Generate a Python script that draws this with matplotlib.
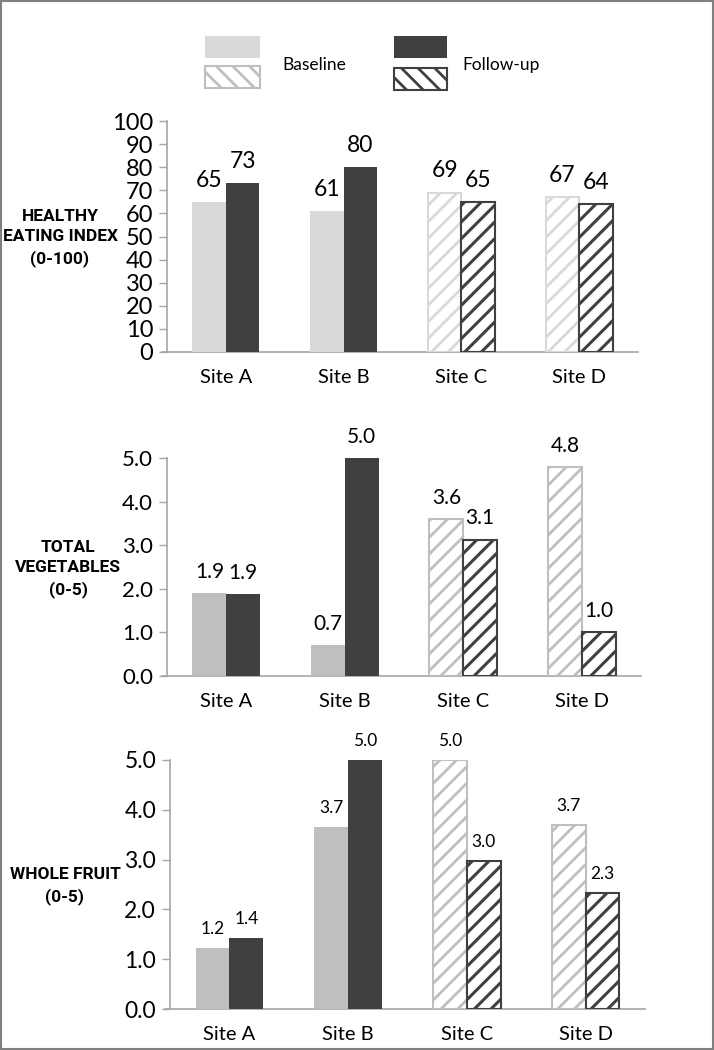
import matplotlib
matplotlib.use('Agg')
import matplotlib.pyplot as plt
from matplotlib.patches import Rectangle
import numpy as np

plt.rcParams['font.family'] = ['Lato', 'DejaVu Sans']

sites = ['Site A', 'Site B', 'Site C', 'Site D']
hatched = [False, False, True, True]

hei_base = [65, 61, 69, 67]
hei_follow = [73, 80, 65, 64]
hei_base_lbl = ['65', '61', '69', '67']
hei_follow_lbl = ['73', '80', '65', '64']

veg_base = [1.9, 0.7, 3.6, 4.8]
veg_follow = [1.87, 5.0, 3.13, 1.0]
veg_base_lbl = ['1.9', '0.7', '3.6', '4.8']
veg_follow_lbl = ['1.9', '5.0', '3.1', '1.0']

fruit_base = [1.22, 3.65, 5.0, 3.7]
fruit_follow = [1.42, 5.0, 2.97, 2.33]
fruit_base_lbl = ['1.2', '3.7', '5.0', '3.7']
fruit_follow_lbl = ['1.4', '5.0', '3.0', '2.3']

DARK = '#404040'
AXC = '#a6a6a6'

fig = plt.figure(figsize=(7.14, 10.5), dpi=100)
W, H = 714.0, 1050.0


def px_axes(left, right, top, bottom):
    return fig.add_axes([left / W, 1 - bottom / H, (right - left) / W, (bottom - top) / H])


def draw_bar(ax, x, v, w, color, hatch_on, dark):
    if hatch_on:
        with plt.rc_context({'hatch.linewidth': 2.2 if dark else 2.0}):
            b = ax.bar(x, v, w, color='white', edgecolor=color, linewidth=1.5,
                       hatch='//', zorder=3)
    else:
        b = ax.bar(x, v, w, color=color, edgecolor='none', zorder=3)
    return b


def panel(ax, base, follow, base_lbl, follow_lbl, base_color, ymax, ystep, fmt,
          lbl_size, tick_size, off):
    x = np.arange(len(sites)) + 0.5
    w = 0.285
    for i in range(len(sites)):
        draw_bar(ax, x[i] - w / 2, base[i], w, base_color, hatched[i], False)
        draw_bar(ax, x[i] + w / 2, follow[i], w, DARK, hatched[i], True)
        ax.annotate(base_lbl[i], (x[i] - w / 2, base[i]), xytext=(0, off),
                    textcoords='offset points', ha='center', va='bottom',
                    fontsize=lbl_size, color='black')
        ax.annotate(follow_lbl[i], (x[i] + w / 2, follow[i]), xytext=(0, off),
                    textcoords='offset points', ha='center', va='bottom',
                    fontsize=lbl_size, color='black')
    ax.set_xlim(0, len(sites))
    ax.set_ylim(0, ymax)
    ticks = np.arange(0, ymax + ystep / 2, ystep)
    ax.set_yticks(ticks)
    ax.set_yticklabels([fmt.format(t) for t in ticks], fontsize=tick_size)
    ax.set_xticks(x)
    ax.set_xticklabels(sites, fontsize=14.5)
    ax.tick_params(axis='x', length=0, pad=12)
    ax.tick_params(axis='y', length=6, width=1, color=AXC, pad=4)
    for s in ['top', 'right']:
        ax.spines[s].set_visible(False)
    for s in ['left', 'bottom']:
        ax.spines[s].set_color(AXC)
        ax.spines[s].set_linewidth(1.2)
    ax.spines['bottom'].set_bounds(-0.04, len(sites))
    ax.patch.set_alpha(0)


def side_label(xc, yc, text):
    fig.text(xc / W, 1 - yc / H, text, ha='center', va='center',
             family=['Roboto', 'DejaVu Sans'], fontsize=12.5, fontweight='bold',
             linespacing=1.45)


ax1 = px_axes(167, 638, 121, 352)
panel(ax1, hei_base, hei_follow, hei_base_lbl, hei_follow_lbl, '#d9d9d9',
      100, 10, '{:.0f}', 16.5, 17, 8)
side_label(60, 238, 'HEALTHY\nEATING INDEX\n(0-100)')

ax2 = px_axes(167, 641, 458, 676)
panel(ax2, veg_base, veg_follow, veg_base_lbl, veg_follow_lbl, '#bfbfbf',
      5, 1, '{:.1f}', 15, 16, 8)
side_label(68, 569, 'TOTAL\nVEGETABLES\n(0-5)')

ax3 = px_axes(170, 645, 760, 1009)
panel(ax3, fruit_base, fruit_follow, fruit_base_lbl, fruit_follow_lbl, '#bfbfbf',
      5, 1, '{:.1f}', 12.5, 16.5, 8)
side_label(65, 886, 'WHOLE FRUIT\n(0-5)')

# legend drawn in its own axes
lax = px_axes(190, 560, 30, 95)
lax.set_xlim(190, 560)
lax.set_ylim(95, 30)
lax.axis('off')
lax.add_patch(Rectangle((205, 36), 55, 22, facecolor='#d9d9d9', edgecolor='none'))
with plt.rc_context({'hatch.linewidth': 2.0}):
    lax.add_patch(Rectangle((205, 66), 55, 22, facecolor='white', edgecolor='#bfbfbf',
                            linewidth=1.5, hatch='\\\\'))
    lax.add_patch(Rectangle((394, 36), 53, 22, facecolor=DARK, edgecolor='none'))
    lax.add_patch(Rectangle((394, 68), 53, 22, facecolor='white', edgecolor=DARK,
                            linewidth=1.5, hatch='\\\\'))
lax.text(282, 65, 'Baseline', ha='left', va='center', fontsize=12.5)
lax.text(462, 65, 'Follow-up', ha='left', va='center', fontsize=12.5)

# outer frame
fig.patches.append(Rectangle((0.001, 0.001), 0.998, 0.998, transform=fig.transFigure,
                             facecolor='none', edgecolor='#808080', linewidth=1.5))

fig.savefig('out.png', dpi=100)
